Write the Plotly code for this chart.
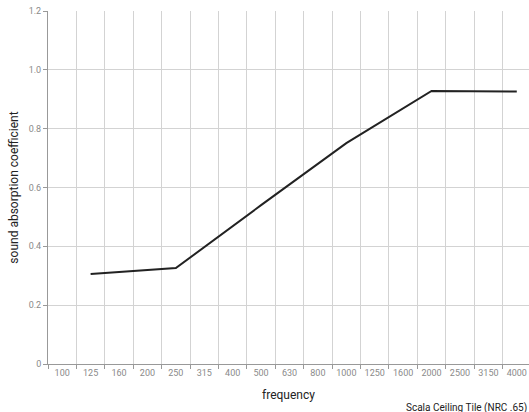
import plotly.graph_objects as go

# one-third octave band centres shown on the axis
bands = ["100", "125", "160", "200", "250", "315", "400", "500", "630",
         "800", "1000", "1250", "1600", "2000", "2500", "3150", "4000"]

# measured octave values for the tile
freq = ["125", "250", "500", "1000", "2000", "4000"]
coef = [0.306, 0.326, 0.54, 0.751, 0.928, 0.926]

y_ticks = [0, 0.2, 0.4, 0.6, 0.8, 1.0, 1.2]
y_labels = ["0", "0.2", "0.4", "0.6", "0.8", "1.0", "1.2"]

fig = go.Figure()

fig.add_trace(go.Scatter(
    x=freq,
    y=coef,
    mode="lines",
    line=dict(color="#222222", width=2),
    name="Scala Ceiling Tile (NRC .65)",
    showlegend=False))

grid = "#d3d3d3"
fig.update_xaxes(
    type="category",
    categoryorder="array",
    categoryarray=bands,
    range=[-0.5, 16.43],
    tickson="boundaries",
    tickangle=0,
    ticks="outside", ticklen=4, tickcolor="#999999",
    showgrid=True, gridcolor=grid, gridwidth=1,
    showline=True, linecolor="#999999", linewidth=1,
    tickfont=dict(size=9, color="#8a8a8a"),
    title=dict(text="frequency", font=dict(size=12, color="#222222"), standoff=13),
    automargin=False,
    fixedrange=True)

fig.update_yaxes(
    range=[0, 1.2],
    tickvals=y_ticks, ticktext=y_labels,
    ticks="outside", ticklen=4, tickcolor="#999999",
    showgrid=True, gridcolor=grid, gridwidth=1,
    showline=True, linecolor="#999999", linewidth=1,
    zeroline=False,
    automargin=False,
    tickfont=dict(size=9, color="#8a8a8a"),
    title=dict(text="sound absorption coefficient",
               font=dict(size=12, color="#222222"), standoff=7))

fig.add_annotation(
    text="Scala Ceiling Tile (NRC .65)",
    xref="paper", yref="paper",
    x=1.0, y=0, xanchor="right", yanchor="top",
    yshift=-36,
    showarrow=False,
    font=dict(size=10, color="#222222"))

fig.update_layout(
    width=529, height=412,
    margin=dict(l=48, r=0, t=11, b=48),
    paper_bgcolor="white",
    plot_bgcolor="white",
    font=dict(family="Roboto, sans-serif"))

fig.write_html("out.html",
               config={"displayModeBar": False},
               post_script="document.body.style.margin='0';"
                           "document.body.style.overflow='hidden';")
